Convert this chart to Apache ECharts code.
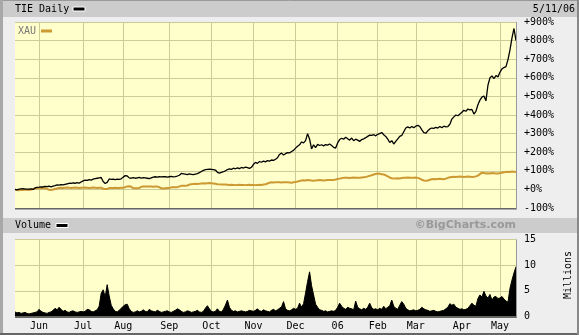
<!DOCTYPE html>
<html><head><meta charset="utf-8">
<script src="https://cdn.jsdelivr.net/npm/echarts@6/dist/echarts.min.js"></script>
<style>html,body{margin:0;padding:0;background:#eeeeee}#c{width:579px;height:335px}</style>
</head><body><div id="c"></div>
<script>
// Month labels and number of trading days per month (first partial May 2005 unlabeled)
const monthLabels = ['', 'Jun', 'Jul', 'Aug', 'Sep', 'Oct', 'Nov', 'Dec', '06', 'Feb', 'Mar', 'Apr', 'May'];
const monthDays   = [12, 22, 20, 23, 21, 21, 21, 21, 20, 19, 23, 19, 9];

// TIE daily, % change
const tieValues = [
  0,-2,1,3,4,2,1,2,3,0,8,11,
  12,14,13,16,15,17,14,18,20,24,23,26,24,27,30,33,32,35,33,36,34,40,
  46,50,48,52,50,55,58,60,62,64,42,32,38,56,54,55,53,55,54,57,
  66,74,72,62,60,63,60,62,64,61,63,62,60,58,62,66,68,66,68,67,69,68,66,
  68,70,67,69,72,76,86,84,82,80,83,81,79,82,85,90,96,102,106,108,109,
  108,106,104,92,88,91,95,100,106,110,108,114,111,116,112,118,115,120,117,113,119,
  135,145,140,150,146,152,148,155,152,158,156,162,170,188,195,185,192,198,196,204,210,
  222,232,240,255,250,262,300,270,218,240,225,242,236,240,234,241,238,244,236,226,222,
  250,268,275,270,280,272,265,276,262,270,265,258,268,272,278,285,292,290,294,288,
  296,300,306,294,285,270,252,262,244,258,272,285,290,310,330,336,330,338,332,
  340,344,338,320,305,302,315,325,330,328,334,330,338,332,340,336,338,350,378,390,400,396,405,
  415,425,420,432,428,430,405,420,455,480,496,502,476,560,600,610,595,612,605,
  630,648,655,660,698,750,815,865,800
];

// XAU, % change
const xauValues = [
  -2,-3,-4,-2,-3,-1,-2,-3,-1,2,5,6,
  6,5,7,6,3,-2,-3,-1,2,5,8,9,8,9,10,9,8,9,10,9,8,9,
  9,10,9,8,9,10,9,8,9,9,3,2,2,7,8,8,9,8,8,9,
  9,12,16,17,14,7,6,6,8,14,15,16,15,16,15,14,16,15,12,6,5,6,7,
  8,11,12,11,12,16,19,20,19,21,26,28,29,30,29,31,32,33,32,33,34,
  33,32,30,28,27,26,27,26,25,24,25,24,23,24,25,24,24,23,24,25,24,
  24,23,24,25,24,26,28,32,36,38,37,38,39,38,37,38,39,38,37,36,38,
  40,42,45,48,49,48,50,49,48,47,48,49,50,49,48,49,50,51,50,51,53,
  56,58,60,62,63,62,61,63,64,63,62,63,64,65,66,70,73,76,80,83,
  85,84,82,80,76,70,64,60,58,59,60,59,61,62,63,64,63,62,63,
  64,62,58,52,48,46,48,52,55,56,55,56,57,56,55,58,62,65,67,68,67,68,69,
  68,67,68,69,68,67,68,70,74,82,90,88,86,87,86,88,87,86,85,
  88,90,92,94,95,94,96,95,94
];

// Volume, millions
const volValues = [
  0.9,0.7,0.8,0.6,0.7,0.8,0.6,0.5,0.6,0.7,0.8,0.9,
  1.4,1.0,0.8,0.7,0.6,0.8,0.9,1.2,1.6,1.3,1.8,1.4,1.0,1.2,0.9,0.8,1.0,1.1,0.9,0.8,0.9,1.0,
  0.9,1.0,1.4,1.3,1.0,0.9,1.1,1.3,2.0,4.5,5.2,3.8,6.2,4.0,2.2,1.5,1.0,0.9,1.2,1.6,
  2.0,2.3,2.4,1.5,1.0,0.8,0.9,1.1,0.9,1.0,1.3,1.0,0.9,1.4,1.1,1.0,0.9,1.2,1.0,0.8,0.9,1.0,1.1,
  0.9,0.8,1.0,1.2,1.5,1.3,1.0,0.8,0.9,1.1,1.0,0.8,0.9,1.0,1.2,0.9,0.8,1.0,1.6,2.1,1.5,
  1.0,0.9,1.0,1.5,1.0,0.9,1.4,2.2,3.2,1.8,1.2,1.0,1.1,0.9,1.0,1.1,1.0,0.9,1.0,1.2,1.1,
  1.0,1.2,1.5,1.1,1.0,1.3,1.1,1.0,0.9,1.2,1.4,1.1,1.3,1.6,1.9,2.9,1.5,1.2,1.1,1.3,1.6,
  1.4,1.6,2.6,1.8,2.5,4.6,6.8,8.7,6.0,4.2,2.4,1.8,1.3,1.2,1.0,1.1,0.9,1.0,1.1,1.0,1.2,
  1.8,2.6,2.0,1.6,1.4,1.8,1.6,1.5,1.3,3.0,1.8,1.5,1.3,1.6,1.4,1.8,2.6,1.7,1.4,1.5,
  1.3,1.6,1.4,2.0,1.5,1.8,2.1,3.2,2.0,1.6,1.4,2.2,2.9,2.4,1.6,1.3,1.1,1.2,1.3,
  1.1,1.2,1.4,1.8,1.5,1.3,1.2,1.0,1.1,1.2,1.0,0.9,1.0,1.1,1.2,1.5,1.8,2.5,2.2,2.4,1.8,1.6,1.4,
  1.5,1.3,1.4,1.6,2.1,2.6,2.2,2.0,3.5,4.2,3.8,4.9,4.0,3.6,4.3,3.2,3.8,3.9,3.5,
  3.6,3.9,3.4,3.0,2.8,5.5,7.1,8.5,9.7
];

const priceTicks = { min: -100, max: 900, step: 100 };
const volTicks = { min: 0, max: 15, step: 5 };

// Build categories from month table
const categories = [];
const isMonthStart = [];
const catLabel = [];
monthDays.forEach((n, m) => {
  for (let k = 0; k < n; k++) {
    categories.push(m + '-' + k);
    catLabel.push(k === 0 ? monthLabels[m] : '');
    isMonthStart.push(k === 0 && monthLabels[m] !== '');
  }
});

const FONT = 'DejaVu Sans Mono';
const GRID_C = '#cccc99';
const PLOT_BG = '#ffffcc';

const chart = echarts.init(document.getElementById('c'), null, { renderer: 'canvas' });

const xCommon = {
  type: 'category', data: categories, boundaryGap: false,
  axisLine: { show: false }, axisTick: { show: false },
  splitLine: { show: true, interval: (i) => isMonthStart[i], lineStyle: { color: GRID_C, width: 1 } }
};

const T = (text, x, y, opt) => ({
  type: 'text', x, y, silent: true,
  style: Object.assign({ text, font: '10px "' + FONT + '"', fill: '#000',
    textAlign: 'left', textVerticalAlign: 'middle', align: 'left', verticalAlign: 'middle' }, opt || {})
});

chart.setOption({
  animation: false,
  backgroundColor: '#eeeeee',
  grid: [
    { left: 15, top: 22, width: 501, height: 186, show: true, backgroundColor: PLOT_BG, borderWidth: 0 },
    { left: 15, top: 239.5, width: 501, height: 77, show: true, backgroundColor: PLOT_BG, borderWidth: 0 }
  ],
  xAxis: [
    Object.assign({}, xCommon, { gridIndex: 0, axisLabel: { show: false } }),
    Object.assign({}, xCommon, { gridIndex: 1,
      axisLabel: { show: true, interval: (i) => isMonthStart[i], formatter: (v, i) => catLabel[i],
        color: '#000', fontFamily: FONT, fontSize: 10, margin: 5 } })
  ],
  yAxis: [
    { type: 'value', gridIndex: 0, position: 'right', min: priceTicks.min, max: priceTicks.max, interval: priceTicks.step,
      axisLine: { show: false }, axisTick: { show: false },
      splitLine: { lineStyle: { color: GRID_C, width: 1 } },
      axisLabel: { color: '#000', fontFamily: FONT, fontSize: 10, margin: 8,
        formatter: (v) => (v >= 0 ? '+' : '') + v + '%' } },
    { type: 'value', gridIndex: 1, position: 'right', min: volTicks.min, max: volTicks.max, interval: volTicks.step,
      axisLine: { show: false }, axisTick: { show: false },
      splitLine: { lineStyle: { color: GRID_C, width: 1 } },
      axisLabel: { color: '#000', fontFamily: FONT, fontSize: 10, margin: 8 } }
  ],
  series: [
    { name: 'XAU', type: 'line', xAxisIndex: 0, yAxisIndex: 0, data: xauValues, symbol: 'none',
      lineStyle: { color: '#cc9933', width: 2 }, z: 3 },
    { name: 'TIE', type: 'line', xAxisIndex: 0, yAxisIndex: 0, data: tieValues, symbol: 'none',
      lineStyle: { color: '#000', width: 1.3 }, z: 4 },
    { name: 'Volume', type: 'line', xAxisIndex: 1, yAxisIndex: 1, data: volValues, symbol: 'none',
      lineStyle: { color: '#000', width: 1 }, areaStyle: { color: '#000', opacity: 1 }, z: 3 }
  ],
  graphic: [
    // outer frame
    { type: 'rect', shape: { x: 0.5, y: 0.5, width: 578, height: 334 }, style: { fill: 'none', stroke: '#999', lineWidth: 1 }, z: 0, silent: true },
    { type: 'rect', shape: { x: 0, y: 0, width: 3, height: 335 }, style: { fill: '#a8a8a8' }, z: 0, silent: true },
    { type: 'rect', shape: { x: 0, y: 333, width: 579, height: 2 }, style: { fill: '#666' }, z: 0, silent: true },
    { type: 'rect', shape: { x: 577, y: 0, width: 2, height: 335 }, style: { fill: '#888' }, z: 0, silent: true },
    // header bands
    { type: 'rect', shape: { x: 3, y: 1, width: 574, height: 16 }, style: { fill: '#cccccc' }, z: 0, silent: true },
    { type: 'rect', shape: { x: 3, y: 218, width: 574, height: 15 }, style: { fill: '#cccccc' }, z: 0, silent: true },
    // plot borders (bottom/right shadow)
    { type: 'rect', shape: { x: 15, y: 208, width: 502, height: 1.5 }, style: { fill: '#666' }, z: 10, silent: true },
    { type: 'rect', shape: { x: 516, y: 22, width: 1, height: 187 }, style: { fill: '#999' }, z: 10, silent: true },
    { type: 'rect', shape: { x: 15, y: 316.5, width: 502, height: 1.5 }, style: { fill: '#666' }, z: 10, silent: true },
    { type: 'rect', shape: { x: 516, y: 239.5, width: 1, height: 78 }, style: { fill: '#999' }, z: 10, silent: true },
    // header texts
    T('TIE Daily', 15, 9.5),
    { type: 'rect', shape: { x: 73, y: 7, width: 12, height: 4 }, style: { fill: '#000', stroke: '#fff', lineWidth: 1 }, z: 5, silent: true },
    T('5/11/06', 575, 9.5, { textAlign: 'right', align: 'right' }),
    T('XAU', 18, 31, { fill: '#777' }),
    { type: 'rect', shape: { x: 41, y: 29.5, width: 11, height: 3 }, style: { fill: '#cc9933' }, z: 5, silent: true },
    T('Volume', 15, 225.5),
    { type: 'rect', shape: { x: 56, y: 223.5, width: 12, height: 4 }, style: { fill: '#000', stroke: '#fff', lineWidth: 1 }, z: 5, silent: true },
    T('\u00a9BigCharts.com', 516, 225.5, { textAlign: 'right', align: 'right', font: 'bold 11px "DejaVu Sans"', fill: '#999' }),
    { type: 'text', x: 568, y: 275, rotation: Math.PI / 2, silent: true,
      style: { text: 'Millions', font: '10px "' + FONT + '"', fill: '#000', textAlign: 'center', textVerticalAlign: 'middle', align: 'center', verticalAlign: 'middle' } }
  ]
});
</script></body></html>
